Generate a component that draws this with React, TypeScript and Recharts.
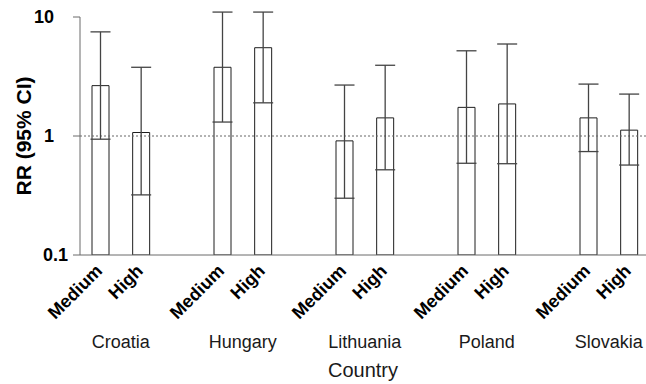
import { BarChart, Bar, XAxis, YAxis, ErrorBar, ReferenceLine, Label } from 'recharts'

const countries = ['Croatia', 'Hungary', 'Lithuania', 'Poland', 'Slovakia']
const rrMedium = [2.65, 3.78, 0.91, 1.74, 1.42]
const rrHigh = [1.07, 5.52, 1.42, 1.86, 1.12]
const lowMedium = [0.94, 1.31, 0.3, 0.59, 0.74]
const lowHigh = [0.32, 1.9, 0.52, 0.585, 0.57]
const upMedium = [7.5, 11.0, 2.68, 5.2, 2.73]
const upHigh = [3.78, 11.0, 3.93, 5.93, 2.25]
const yTicks = [0.1, 1, 10]

const W = 690
const VISIBLE_W = 646
const H = 384
const Y_AXIS_W = 80
const SLOT = (W - Y_AXIS_W) / (countries.length * 3)
const AXIS = '#6a6a6a'
const FONT = 'Arial, "Liberation Sans", Helvetica, sans-serif'

const rows = countries.flatMap((c, i) => [
    { key: `${c}|Medium`, rr: rrMedium[i], err: [rrMedium[i] - lowMedium[i], upMedium[i] - rrMedium[i]] },
    { key: `${c}|High`, rr: rrHigh[i], err: [rrHigh[i] - lowHigh[i], upHigh[i] - rrHigh[i]] },
    { key: `${c}|gap`, rr: undefined, err: undefined },
])

const XTick = ({ x, y, payload }: any) => {
    const [country, level] = String(payload.value).split('|')
    if (level === 'gap') return <g />
    const ax = x + 3
    const ay = y + 17
    return (
        <g>
            <text x={ax} y={ay} transform={`rotate(-45, ${ax}, ${ay})`} textAnchor='end'
                style={{ fontFamily: FONT, fontSize: 18, fontWeight: 700, fill: '#000' }}>{level}</text>
            {level === 'Medium' && (
                <text x={x + SLOT / 2} y={y + 93} textAnchor='middle'
                    style={{ fontFamily: FONT, fontSize: 18, fill: '#1a1a1a' }}>{country}</text>
            )}
        </g>
    )
}

const YTick = ({ x, y, payload }: any) => {
    // the 0.1 label sits closer to the axis than the others
    const dx = payload.value < 1 ? -5 : -19
    return (
        <text x={x + dx} y={y + 6} textAnchor='end'
            style={{ fontFamily: FONT, fontSize: 18, fontWeight: 700, fill: '#000' }}>{payload.value}</text>
    )
}

const YTitle = ({ viewBox }: any) => {
    const cx = 31
    const cy = viewBox.y + viewBox.height / 2
    return (
        <text x={cx} y={cy} transform={`rotate(-90, ${cx}, ${cy})`} textAnchor='middle'
            style={{ fontFamily: FONT, fontSize: 21, fontWeight: 700, fill: '#000' }}>RR (95% CI)</text>
    )
}

const XTitle = ({ viewBox }: any) => (
    <text x={viewBox.x + (VISIBLE_W - viewBox.x) / 2} y={viewBox.y + 122} textAnchor='middle'
        style={{ fontFamily: FONT, fontSize: 20, fill: '#1a1a1a' }}>Country</text>
)

export default function App() {
    return (
        <div style={{ position: 'absolute', left: 0, top: 0, width: VISIBLE_W, height: H, overflow: 'hidden', background: '#fff' }}>
            <BarChart width={W} height={H} data={rows} margin={{ top: 17, right: 0, bottom: 0, left: 0 }}>
                <XAxis dataKey='key' type='category' interval={0} height={129} tickLine={false} tickSize={0} tickMargin={0}
                    axisLine={{ stroke: AXIS }} tick={<XTick />}>
                    <Label content={<XTitle />} />
                </XAxis>
                <YAxis type='number' scale='log' domain={[0.1, 10]} allowDataOverflow ticks={yTicks} interval={0}
                    width={Y_AXIS_W} tickSize={7} tickMargin={0} axisLine={{ stroke: AXIS }} tickLine={{ stroke: AXIS }} tick={<YTick />}>
                    <Label content={<YTitle />} />
                </YAxis>
                <ReferenceLine y={1} stroke='#666' strokeDasharray='2 2' />
                <Bar dataKey='rr' fill='#fff' stroke='#1e1e1e' strokeWidth={1} barSize={17} isAnimationActive={false}>
                    <ErrorBar dataKey='err' direction='y' width={10} stroke='#444' strokeWidth={1.3} isAnimationActive={false} />
                </Bar>
            </BarChart>
        </div>
    )
}
